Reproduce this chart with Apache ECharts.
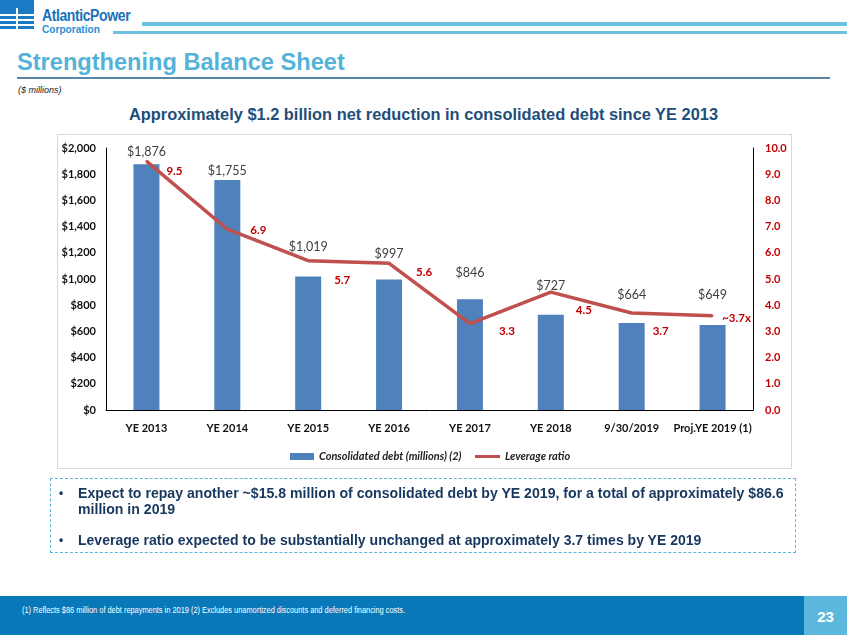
<!DOCTYPE html>
<html>
<head>
<meta charset="utf-8">
<script src="https://cdn.jsdelivr.net/npm/echarts@6/dist/echarts.min.js"></script>
<style>
  html,body{margin:0;padding:0;background:#fff;}
  #page{position:relative;width:847px;height:635px;overflow:hidden;font-family:"Liberation Sans",Arial,sans-serif;}
  #chart{position:absolute;left:0;top:0;width:847px;height:635px;}
  .abs{position:absolute;}
  .nw{white-space:nowrap;transform-origin:0 0;}
</style>
</head>
<body>
<div id="page">
  <!-- logo -->
  <div class="abs" style="left:0;top:0;width:34px;height:29px;background:#1a7bc4;"></div>
  <div class="abs" style="left:0;top:14px;width:34px;height:2px;background:#fff;"></div>
  <div class="abs" style="left:0;top:19px;width:34px;height:2px;background:#fff;"></div>
  <div class="abs" style="left:0;top:24px;width:34px;height:2px;background:#fff;"></div>
  <div class="abs" style="left:16px;top:8px;width:2px;height:21px;background:#fff;"></div>
  <div class="abs nw" style="left:42px;top:7px;font-weight:bold;font-size:16px;letter-spacing:-0.5px;color:#1a72b9;transform:scaleX(0.88);">AtlanticPower</div>
  <div class="abs nw" style="left:42px;top:23px;font-weight:bold;font-size:11.5px;color:#2b8fd3;transform:scaleX(0.88);">Corporation</div>
  <div class="abs" style="left:142px;top:22px;width:705px;height:4px;background:#6cc0e0;"></div>
  <div class="abs" style="left:113px;top:31px;width:734px;height:3px;background:#6cc0e0;"></div>
  <!-- title -->
  <div class="abs nw" style="left:17px;top:49px;font-weight:bold;font-size:23.6px;color:#55b3d9;">Strengthening Balance Sheet</div>
  <div class="abs" style="left:17px;top:77px;width:813px;height:2px;background:#5a87a8;"></div>
  <div class="abs nw" style="left:18px;top:85px;font-style:italic;font-size:9px;color:#222;">($ millions)</div>
  <div class="abs nw" style="left:0;top:105px;width:847px;text-align:center;font-weight:bold;font-size:16.4px;color:#1f4e79;">Approximately $1.2 billion net reduction in consolidated debt since YE 2013</div>
  <!-- chart box -->
  <div class="abs" style="left:57px;top:134px;width:733px;height:333px;border:1px solid #d9d9d9;"></div>
  <div id="chart"></div>
  <!-- bullets -->
  <div class="abs" style="left:50px;top:478px;width:744px;height:73px;border:1px dashed #5cb4dc;"></div>
  <div class="abs" style="left:59px;top:485px;font-weight:bold;font-size:15.5px;line-height:16px;color:#17375e;">
    <div class="abs" style="left:0;top:0;font-size:12px;">•</div>
    <div class="abs nw" style="left:19px;top:0;transform:scaleX(0.91);">Expect to repay another ~$15.8 million of consolidated debt by YE 2019, for a total of approximately $86.6<br>million in 2019</div>
    <div class="abs" style="left:0;top:47px;font-size:12px;">•</div>
    <div class="abs nw" style="left:19px;top:47px;transform:scaleX(0.905);">Leverage ratio expected to be substantially unchanged at approximately 3.7 times by YE 2019</div>
  </div>
  <!-- footer -->
  <div class="abs" style="left:0;top:596px;width:804px;height:39px;background:#0878b8;"></div>
  <div class="abs" style="left:804px;top:596px;width:43px;height:39px;background:#5bb7dc;"></div>
  <div class="abs" style="left:804px;top:608px;width:43px;text-align:center;font-weight:bold;font-size:15px;color:#fff;">23</div>
  <div class="abs nw" style="left:22px;top:605px;font-size:8.5px;color:#fff;transform:scaleX(0.87);">(1) Reflects $86 million of debt repayments in 2019 (2) Excludes unamortized discounts and deferred financing costs.</div>
</div>
<script>
const categories = ['YE 2013','YE 2014','YE 2015','YE 2016','YE 2017','YE 2018','9/30/2019','Proj.YE 2019 (1)'];
const debtValues = [1876, 1755, 1019, 997, 846, 727, 664, 649];
const leverageValues = [9.5, 6.9, 5.7, 5.6, 3.3, 4.5, 3.7, 3.6];
const leverageLabels = ['9.5','6.9','5.7','5.6','3.3','4.5','3.7','~3.7x'];
const leftTicks = { min: 0, max: 2000, interval: 200 };
const rightTicks = { min: 0, max: 10, interval: 1 };

// label placement (style only)
const barLabelDist = [6, 3, 23, 19, 20, 22, 22, 24];
const lineLabelOffsets = [[28,10],[31,1],[34,20],[35,9],[37,8],[33,18],[29,18],[24,3]];

const chart = echarts.init(document.getElementById('chart'), null, {renderer:'canvas'});
const fontLabel = 'Lato, "Open Sans", sans-serif';
const legendText = { fontFamily: fontLabel, fontStyle: 'italic', fontWeight: 'bold', fontSize: 11, color: '#222' };
chart.setOption({
  animation: false,
  grid: { left: 106, right: 94, top: 148, bottom: 225 },
  legend: [
    { left: 285, top: 446, itemWidth: 24, itemHeight: 7, textStyle: legendText,
      data: [{ name: 'Consolidated debt (millions) (2)', icon: 'rect' }] },
    { left: 470, top: 446, itemWidth: 25, itemHeight: 3, textStyle: legendText,
      data: [{ name: 'Leverage ratio', icon: 'rect', itemStyle: { color: '#c0504d' } }] }
  ],
  xAxis: {
    type: 'category', data: categories,
    axisLine: { lineStyle: { color: '#000', width: 1 } },
    axisTick: { show: false },
    axisLabel: { interval: 0, fontFamily: fontLabel, fontWeight: 'bold', fontSize: 11, color: '#111', margin: 13 }
  },
  yAxis: [
    { type: 'value', min: leftTicks.min, max: leftTicks.max, interval: leftTicks.interval,
      splitLine: { show: false },
      axisLine: { show: true, lineStyle: { color: '#000' } }, axisTick: { show: false },
      axisLabel: { fontFamily: fontLabel, fontWeight: 'bold', fontSize: 11, color: '#111', margin: 10,
        formatter: v => '$' + v.toLocaleString('en-US') } },
    { type: 'value', min: rightTicks.min, max: rightTicks.max, interval: rightTicks.interval,
      splitLine: { show: false },
      axisLine: { show: true, lineStyle: { color: '#000' } }, axisTick: { show: false },
      axisLabel: { fontFamily: fontLabel, fontWeight: 'bold', fontSize: 11, color: '#c00000', margin: 12,
        formatter: v => v.toFixed(1) } }
  ],
  series: [
    { name: 'Consolidated debt (millions) (2)', type: 'bar', yAxisIndex: 0, barWidth: 26,
      itemStyle: { color: '#4f81bd' },
      data: debtValues.map((v, i) => ({ value: v, label: { distance: barLabelDist[i] } })),
      label: { show: true, position: 'top', fontFamily: fontLabel, fontSize: 12.5, color: '#404040',
        formatter: p => '$' + p.value.toLocaleString('en-US') } },
    { name: 'Leverage ratio', type: 'line', yAxisIndex: 1, symbol: 'circle', symbolSize: 2, showSymbol: true,
      lineStyle: { color: '#c0504d', width: 3.5 }, itemStyle: { color: '#c0504d' },
      data: leverageValues.map((v, i) => ({ value: v, label: { offset: [lineLabelOffsets[i][0], lineLabelOffsets[i][1] + 7] } })),
      label: { show: true, position: 'top', distance: 0, fontFamily: fontLabel, fontWeight: 'bold', fontSize: 11.5, color: '#c00000',
        formatter: p => leverageLabels[p.dataIndex] } }
  ]
});
</script>
</body>
</html>
